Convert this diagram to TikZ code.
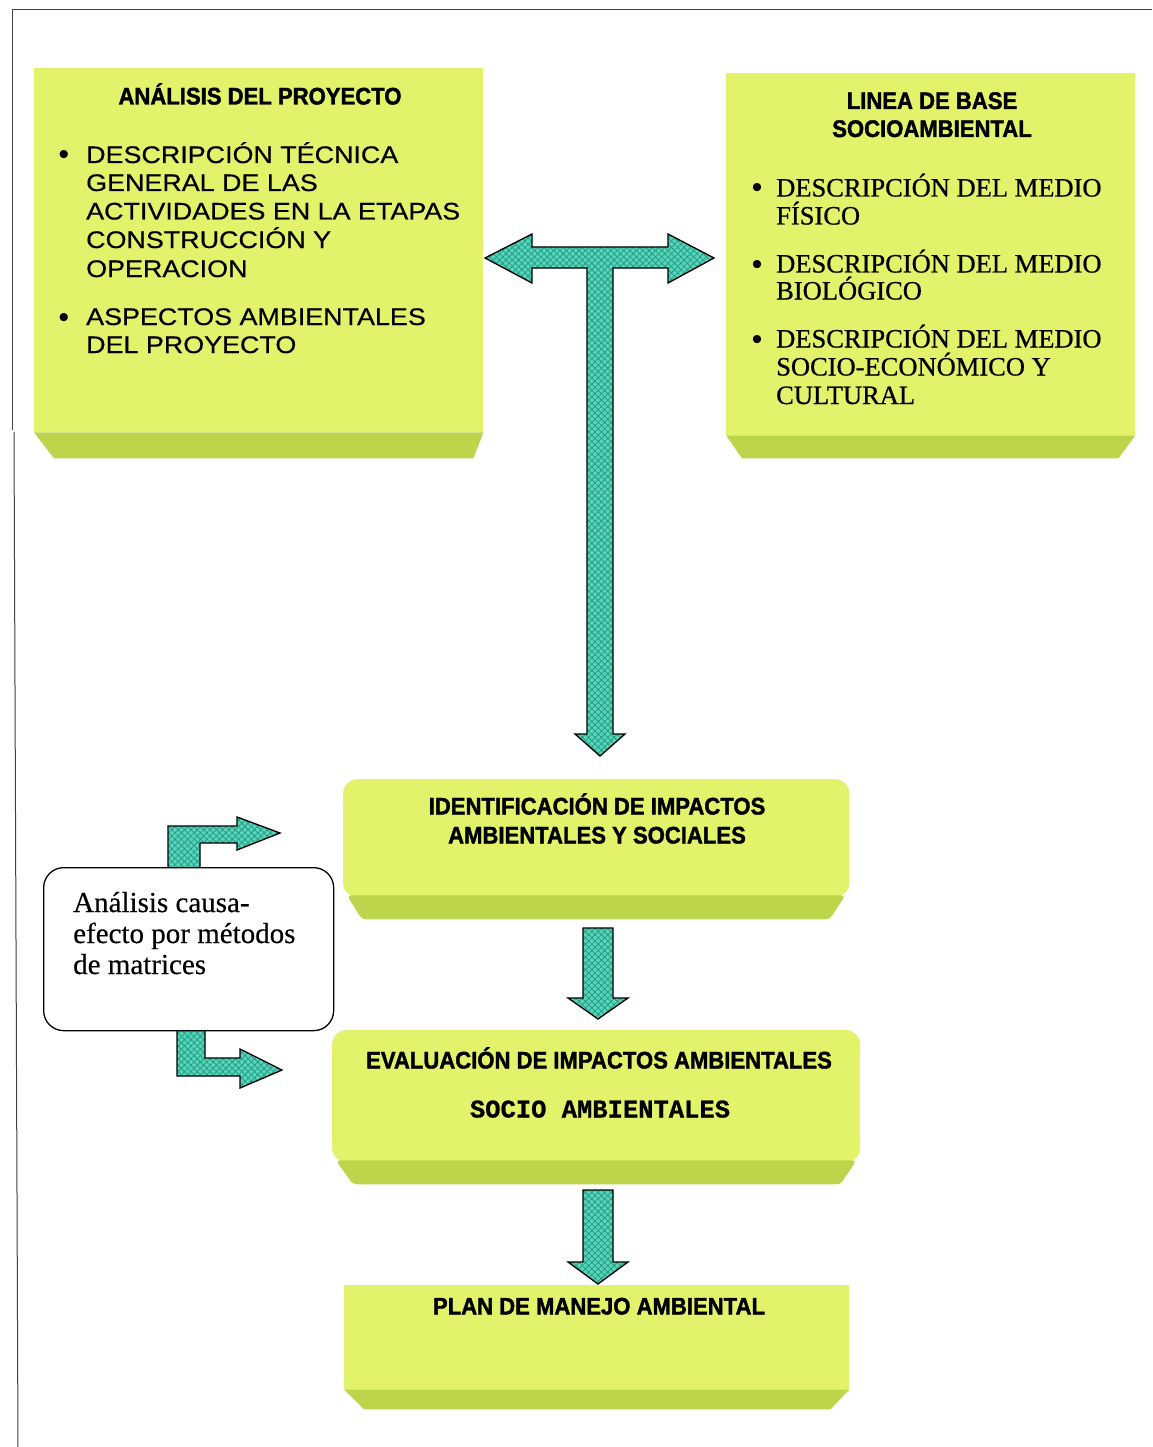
\documentclass[tikz,border=0pt]{standalone}
\usepackage{fontspec}
\setmainfont{Liberation Serif}
\newfontfamily\serifb[FakeBold=0.7]{Liberation Serif}
\newfontfamily\seriflt[FakeBold=0.35]{Liberation Serif}
\newfontfamily\arialf{Liberation Sans}
\newfontfamily\arialw[FakeStretch=1.12,FakeBold=0.5]{Liberation Sans}
\newfontfamily\condf[FakeStretch=0.92,BoldFeatures={FakeBold=1.6}]{Liberation Sans}
\newfontfamily\courf[BoldFeatures={FakeBold=0.8}]{Liberation Mono}
\usetikzlibrary{patterns.meta}
\definecolor{facecol}{HTML}{E2F26A}
\definecolor{bevelcol}{HTML}{BDD54A}
\definecolor{tealA}{HTML}{55D6BA}
\definecolor{tealB}{HTML}{2A9A84}
\tikzset{
  facebox/.style={fill=facecol, draw=none, inner sep=0pt},
  bevelpart/.style={fill=bevelcol, draw=none},
  blockarrow/.style={preaction={fill=tealA}, pattern={Hatch[angle=45,distance=4.5pt,line width=0.8pt]}, pattern color=tealB, draw=black, line width=1.3pt, line join=miter},
  ttl/.style={font=\condf\bfseries\fontsize{24}{28}\selectfont, anchor=base, inner sep=0pt},
  sansline/.style={font=\arialw\fontsize{24}{28}\selectfont, anchor=base west, inner sep=0pt},
  serifline/.style={font=\serifb\fontsize{26.5}{28}\selectfont, anchor=base west, inner sep=0pt},
  bul/.style={font=\arialf\fontsize{30}{30}\selectfont, anchor=base, inner sep=0pt},
  causeline/.style={font=\seriflt\fontsize{29}{31}\selectfont, anchor=base west, inner sep=0pt},
  monoline/.style={font=\courf\bfseries\fontsize{25.5}{28}\selectfont, anchor=base, inner sep=0pt},
  frameline/.style={draw=black!75, line width=1pt},
  roundbox/.style={draw=black, fill=white, line width=1.3pt, rounded corners=20pt}
}
\begin{document}
\begin{tikzpicture}[x=1pt,y=-1pt]
\useasboundingbox (0,0) rectangle (1152,1447);
\fill[white] (0,0) rectangle (1152,1447);
% frame
\draw[frameline] (1152,10) -- (12,10) -- (12,430);
\draw[frameline] (14,432) -- (18,1447);

% Box 1: Analisis del proyecto
\node[facebox, anchor=north west, minimum width=449pt, minimum height=364pt] (p1) at (34,68) {};
\fill[bevelpart] (p1.south west) -- (p1.south east) -- ([xshift=-10pt,yshift=-26pt]p1.south east) -- ([xshift=20pt,yshift=-26pt]p1.south west) -- cycle;
\node[ttl] (p1t) at (260,104.5) {ANÁLISIS DEL PROYECTO};
\node[bul] (p1b1) at (64,165) {•};
\node[sansline] (p1l1) at (86,163) {DESCRIPCIÓN TÉCNICA};
\node[sansline] (p1l2) at (86,191) {GENERAL DE LAS};
\node[sansline] (p1l3) at (86,219.5) {ACTIVIDADES EN LA ETAPAS};
\node[sansline] (p1l4) at (86,248) {CONSTRUCCIÓN Y};
\node[sansline] (p1l5) at (86,277) {OPERACION};
\node[bul] (p1b2) at (64,327) {•};
\node[sansline] (p1l6) at (86,325) {ASPECTOS AMBIENTALES};
\node[sansline] (p1l7) at (86,353) {DEL PROYECTO};

% Box 2: Linea de base
\node[facebox, anchor=north west, minimum width=409pt, minimum height=362pt] (p2) at (726,73) {};
\fill[bevelpart] (p2.south west) -- (p2.south east) -- ([xshift=-17pt,yshift=-23pt]p2.south east) -- ([xshift=16pt,yshift=-23pt]p2.south west) -- cycle;
\node[ttl] (p2t1) at (932,109) {LINEA DE BASE};
\node[ttl] (p2t2) at (932,137) {SOCIOAMBIENTAL};
\node[bul] (p2b1) at (757,198) {•};
\node[serifline] (p2l1) at (776,196.5) {DESCRIPCIÓN DEL MEDIO};
\node[serifline] (p2l2) at (776,224.5) {FÍSICO};
\node[bul] (p2b2) at (757,274) {•};
\node[serifline] (p2l3) at (776,272.5) {DESCRIPCIÓN DEL MEDIO};
\node[serifline] (p2l4) at (776,299.5) {BIOLÓGICO};
\node[bul] (p2b3) at (757,349) {•};
\node[serifline] (p2l5) at (776,347.5) {DESCRIPCIÓN DEL MEDIO};
\node[serifline] (p2l6) at (776,375.5) {SOCIO-ECONÓMICO Y};
\node[serifline] (p2l7) at (776,404) {CULTURAL};

% Box 3: Identificacion
\node[facebox, anchor=north west, minimum width=506pt, minimum height=118pt, rounded corners=14pt] (p3) at (343,779) {};
\fill[bevelpart, rounded corners=4pt] ([xshift=4pt,yshift=2pt]p3.south west) -- ([xshift=-4pt,yshift=2pt]p3.south east) -- ([xshift=-20pt,yshift=-22pt]p3.south east) -- ([xshift=19pt,yshift=-22pt]p3.south west) -- cycle;
\node[ttl] (p3t1) at (597,814.5) {IDENTIFICACIÓN DE IMPACTOS};
\node[ttl] (p3t2) at (597,843.5) {AMBIENTALES Y SOCIALES};

% Box 4: Evaluacion
\node[facebox, anchor=north west, minimum width=528pt, minimum height=132pt, rounded corners=14pt] (p4) at (332,1030) {};
\fill[bevelpart, rounded corners=4pt] ([xshift=4pt,yshift=2pt]p4.south west) -- ([xshift=-4pt,yshift=2pt]p4.south east) -- ([xshift=-20pt,yshift=-22pt]p4.south east) -- ([xshift=21pt,yshift=-22pt]p4.south west) -- cycle;
\node[ttl] (p4t1) at (599,1068.5) {EVALUACIÓN DE IMPACTOS AMBIENTALES};
\node[monoline] (p4t2) at (600,1117.5) {SOCIO AMBIENTALES};

% Box 5: Plan de manejo
\node[facebox, anchor=north west, minimum width=505pt, minimum height=104pt] (p5) at (344,1285) {};
\fill[bevelpart] (p5.south west) -- (p5.south east) -- ([xshift=-19pt,yshift=-20pt]p5.south east) -- ([xshift=20pt,yshift=-20pt]p5.south west) -- cycle;
\node[ttl] (p5t) at (599,1314.5) {PLAN DE MANEJO AMBIENTAL};

% T-shaped double arrow
\draw[blockarrow] (485,258) -- (532,234) -- (532,247) -- (668,247) -- (668,234) -- (714,258)
  -- (668,283) -- (668,268) -- (613,268) -- (613,734) -- (625,734) -- (600,756) -- (575,734)
  -- (587,734) -- (587,268) -- (532,268) -- (532,283) -- cycle;

% down arrows
\draw[blockarrow] (583,928) -- (613,928) -- (613,998) -- (628,998) -- (598,1019) -- (568,998) -- (583,998) -- cycle;
\draw[blockarrow] (583,1190) -- (613,1190) -- (613,1262) -- (628,1262) -- (598,1284) -- (568,1262) -- (583,1262) -- cycle;

% bent arrows of the cause-effect box
\draw[blockarrow] (168,870) -- (168,826) -- (237,826) -- (237,817) -- (280,833) -- (237,850) -- (237,843) -- (200,843) -- (200,870) -- cycle;
\draw[blockarrow] (177,1027) -- (177,1076) -- (240,1076) -- (240,1088) -- (282,1070) -- (240,1049) -- (240,1058) -- (205,1058) -- (205,1027) -- cycle;

% cause-effect box
\node[roundbox, anchor=north west, minimum width=290pt, minimum height=163pt] (c1) at (43,867) {};
\node[causeline] (c1l1) at (73,912) {Análisis causa-};
\node[causeline] (c1l2) at (73,943) {efecto por métodos};
\node[causeline] (c1l3) at (73,974) {de matrices};
\end{tikzpicture}
\end{document}
